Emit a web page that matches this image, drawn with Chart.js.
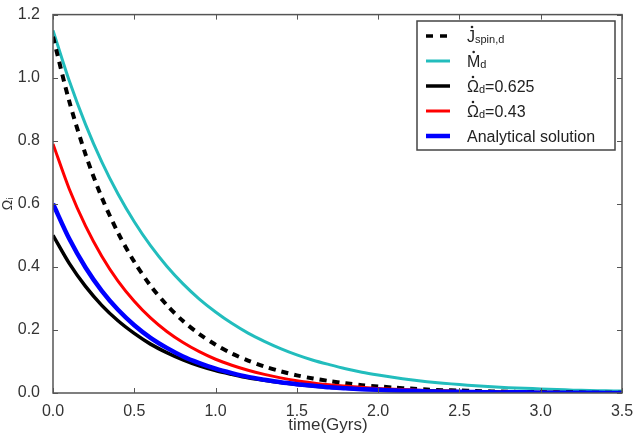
<!DOCTYPE html>
<html lang="en">
<head>
<meta charset="utf-8">
<script src="https://cdn.jsdelivr.net/npm/chart.js"></script>
<style>
  html, body { margin: 0; padding: 0; background: #fff; }
  #wrap { width: 637px; height: 434px; }
</style>
</head>
<body>
<div id="wrap"><canvas id="omegaChart" width="637" height="434"></canvas></div>
<script>
// time axis (Gyrs), one sample every 0.1
const times = [0.0, 0.1, 0.2, 0.3, 0.4, 0.5, 0.6, 0.7, 0.8, 0.9, 1.0, 1.1, 1.2, 1.3, 1.4, 1.5, 1.6, 1.7,
  1.8, 1.9, 2.0, 2.1, 2.2, 2.3, 2.4, 2.5, 2.6, 2.7, 2.8, 2.9, 3.0, 3.1, 3.2, 3.3, 3.4, 3.5];

const jSpin = [1.13, 0.925, 0.757, 0.620, 0.508, 0.416, 0.340, 0.279, 0.228, 0.187, 0.153, 0.125, 0.103,
  0.084, 0.069, 0.056, 0.046, 0.038, 0.031, 0.025, 0.021, 0.017, 0.014, 0.011, 0.009, 0.008, 0.006,
  0.005, 0.004, 0.003, 0.003, 0.002, 0.002, 0.001, 0.001, 0.001];
const mDot = [1.15, 0.990, 0.852, 0.733, 0.631, 0.543, 0.467, 0.402, 0.346, 0.298, 0.257, 0.221, 0.190,
  0.164, 0.141, 0.121, 0.104, 0.090, 0.077, 0.066, 0.057, 0.049, 0.042, 0.036, 0.031, 0.027, 0.023,
  0.020, 0.017, 0.015, 0.013, 0.011, 0.009, 0.008, 0.007, 0.006];
const omega0625 = [0.50, 0.411, 0.338, 0.278, 0.229, 0.189, 0.155, 0.128, 0.105, 0.086, 0.071, 0.059,
  0.048, 0.040, 0.033, 0.027, 0.022, 0.018, 0.015, 0.012, 0.010, 0.008, 0.007, 0.006, 0.005, 0.004,
  0.003, 0.003, 0.002, 0.002, 0.001, 0.001, 0.001, 0.001, 0.001, 0.000];
const omega043 = [0.79, 0.647, 0.530, 0.434, 0.355, 0.291, 0.238, 0.195, 0.160, 0.131, 0.107, 0.088,
  0.072, 0.059, 0.048, 0.039, 0.032, 0.026, 0.022, 0.018, 0.014, 0.012, 0.010, 0.008, 0.007, 0.005,
  0.004, 0.004, 0.003, 0.002, 0.002, 0.002, 0.001, 0.001, 0.001, 0.001];
const analytical = [0.60, 0.489, 0.398, 0.324, 0.264, 0.215, 0.175, 0.143, 0.116, 0.095, 0.077, 0.063,
  0.051, 0.042, 0.034, 0.028, 0.023, 0.018, 0.015, 0.012, 0.010, 0.008, 0.007, 0.005, 0.004, 0.004,
  0.003, 0.002, 0.002, 0.002, 0.001, 0.001, 0.001, 0.001, 0.000, 0.000];

const xTicks = [0.0, 0.5, 1.0, 1.5, 2.0, 2.5, 3.0, 3.5];
const yTicks = [0.0, 0.2, 0.4, 0.6, 0.8, 1.0, 1.2];

const pts = arr => arr.map((v, i) => ({ x: times[i], y: v }));

const FONT = '"Liberation Sans", Arial, sans-serif';

// legend entries: main letter (dotted or not), subscript, rest of text
const legendItems = [
  { main: 'J', dot: true, sub: 'spin,d', rest: '', color: '#000', width: 3.5, dash: [7, 7] },
  { main: 'M', dot: true, sub: 'd', rest: '', color: '#22bdbd', width: 3, dash: [] },
  { main: '\u03A9', dot: true, sub: 'd', rest: '=0.625', color: '#000', width: 3.5, dash: [] },
  { main: '\u03A9', dot: true, sub: 'd', rest: '=0.43', color: '#ff0000', width: 3, dash: [] },
  { main: 'Analytical solution', dot: false, sub: '', rest: '', color: '#0000ff', width: 4.5, dash: [] }
];

const framePlugin = {
  id: 'frame',
  afterDraw(chart) {
    const ctx = chart.ctx;
    const a = chart.chartArea;
    const xs = chart.scales.x, ys = chart.scales.y;
    ctx.save();
    ctx.strokeStyle = '#555';
    ctx.lineWidth = 1.5;
    ctx.strokeRect(a.left, a.top, a.right - a.left, a.bottom - a.top);
    // inward ticks on every side
    ctx.lineWidth = 1;
    ctx.beginPath();
    xTicks.forEach(t => {
      const px = Math.round(xs.getPixelForValue(t)) + 0.5;
      ctx.moveTo(px, a.bottom); ctx.lineTo(px, a.bottom - 5);
      ctx.moveTo(px, a.top); ctx.lineTo(px, a.top + 5);
    });
    yTicks.forEach(t => {
      const py = Math.round(ys.getPixelForValue(t)) + 0.5;
      ctx.moveTo(a.left, py); ctx.lineTo(a.left + 5, py);
      ctx.moveTo(a.right, py); ctx.lineTo(a.right - 5, py);
    });
    ctx.stroke();

    // x axis title
    ctx.fillStyle = '#333';
    ctx.font = '17px ' + FONT;
    ctx.textAlign = 'center';
    ctx.textBaseline = 'alphabetic';
    ctx.fillText('time(Gyrs)', 328, 430);
    ctx.textAlign = 'left';

    // legend box
    const bx = 417, by = 21, bw = 198, bh = 129;
    ctx.fillStyle = '#fff';
    ctx.fillRect(bx, by, bw, bh);
    ctx.strokeStyle = '#444';
    ctx.lineWidth = 1.5;
    ctx.strokeRect(bx, by, bw, bh);
    legendItems.forEach((it, i) => {
      const y = 36 + i * 25;
      ctx.strokeStyle = it.color;
      ctx.lineWidth = it.width;
      ctx.setLineDash(it.dash);
      ctx.beginPath();
      ctx.moveTo(426, y); ctx.lineTo(450, y);
      ctx.stroke();
      ctx.setLineDash([]);
      ctx.fillStyle = '#222';
      ctx.font = '16px ' + FONT;
      let x = 467;
      const base = y + 6;
      ctx.fillText(it.main, x, base);
      const w = ctx.measureText(it.main).width;
      if (it.dot) {
        ctx.beginPath();
        ctx.arc(x + w / 2 + (it.main === 'J' ? 1 : 0), base - 15, 1.3, 0, Math.PI * 2);
        ctx.fill();
      }
      x += w;
      if (it.sub) {
        ctx.font = '11px ' + FONT;
        ctx.fillText(it.sub, x, base + 1);
        x += ctx.measureText(it.sub).width;
      }
      if (it.rest) {
        ctx.font = '16px ' + FONT;
        ctx.fillText(it.rest, x, base);
      }
    });
    ctx.restore();
  }
};

const ds = (label, arr, color, width, dash, order) => ({
  label, data: pts(arr), borderColor: color, backgroundColor: color,
  borderWidth: width, borderDash: dash, pointRadius: 0, tension: 0.3, fill: false, order
});

new Chart(document.getElementById('omegaChart'), {
  type: 'line',
  data: {
    datasets: [
      ds('Analytical solution', analytical, '#0000ff', 4.5, [], 1),
      ds('Omega_d=0.625', omega0625, '#000000', 3.5, [], 2),
      ds('Omega_d=0.43', omega043, '#ff0000', 3, [], 3),
      ds('J_spin,d', jSpin, '#000000', 4, [7, 6], 4),
      ds('M_d', mDot, '#22bdbd', 3, [], 5)
    ]
  },
  options: {
    responsive: false,
    animation: false,
    layout: { padding: { top: 14, right: 15, left: 0, bottom: 0 } },
    plugins: { legend: { display: false }, tooltip: { enabled: false } },
    scales: {
      x: {
        type: 'linear', min: 0, max: 3.5,
        afterBuildTicks: s => { s.ticks = xTicks.map(v => ({ value: v })); },
        afterFit: s => { s.height = 41; },
        grid: { display: false },
        border: { display: false },
        ticks: { color: '#333', font: { family: FONT, size: 16 }, padding: 1, maxRotation: 0,
          callback: v => v.toFixed(1) },
        title: { display: false }
      },
      y: {
        min: 0, max: 1.2,
        afterBuildTicks: s => { s.ticks = yTicks.map(v => ({ value: v })); },
        afterFit: s => { s.width = 53; },
        grid: { display: false },
        border: { display: false },
        ticks: { color: '#333', font: { family: FONT, size: 16 }, padding: 5,
          callback: v => v.toFixed(1) },
        title: { display: true, text: '\u03A9\u1D62', color: '#333', font: { family: FONT, size: 14 },
          padding: { top: 0, bottom: 0 } }
      }
    }
  },
  plugins: [framePlugin]
});
</script>
</body>
</html>
